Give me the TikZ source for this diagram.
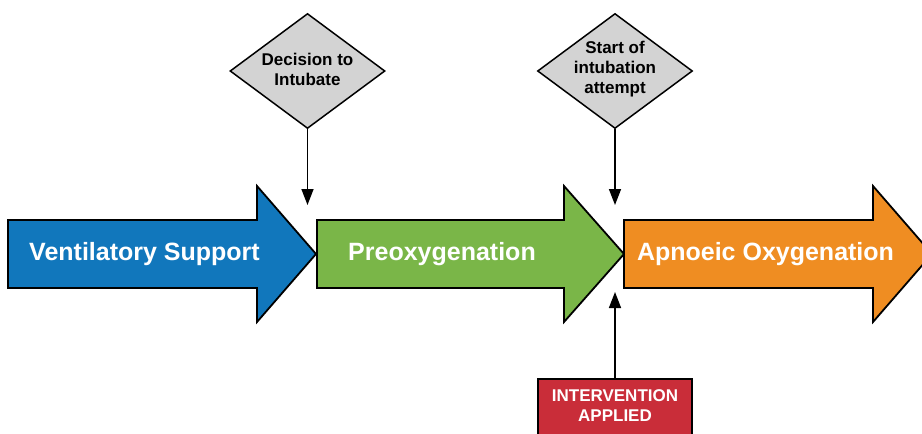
\documentclass[tikz,border=0pt]{standalone}
\usepackage{fontspec}
\setmainfont{Liberation Sans}
\usetikzlibrary{arrows.meta,shapes.geometric}
\definecolor{cazul}{HTML}{1177BC}
\definecolor{cverde}{HTML}{7AB648}
\definecolor{cnaranja}{HTML}{EF8D22}
\definecolor{crojo}{HTML}{C92D39}
\definecolor{cgris}{HTML}{D3D3D3}
\tikzset{
  fase/.style={draw=black, line width=1.8pt, line join=miter},
  etqfase/.style={font=\bfseries\fontsize{25}{30}\selectfont, text=white, anchor=base},
  rombo/.style={diamond, draw=black, fill=cgris, line width=1.5pt,
    minimum width=155pt, minimum height=115pt, inner sep=0pt},
  etqrombo/.style={font=\bfseries\fontsize{17}{20}\selectfont, align=center, text=black},
  caja/.style={rectangle, draw=black, fill=crojo, line width=1.5pt,
    minimum width=154pt, minimum height=62pt, inner sep=0pt},
  etqcaja/.style={font=\bfseries\fontsize{17}{20}\selectfont, align=center, text=white},
  flecha/.style={-{Triangle[length=16pt,width=12pt]}, line width=1.5pt},
}
\begin{document}
\begin{tikzpicture}[x=1pt, y=-1pt]
  \useasboundingbox (0,0) rectangle (922,434);
  \clip (0,0) rectangle (922,434);
  % fases
  \draw[fase, fill=cazul] (8,220) -- (257,220) -- (257,186) -- (316,254)
    -- (257,322) -- (257,288) -- (8,288) -- cycle;
  \draw[fase, fill=cverde] (317,220) -- (564,220) -- (564,186) -- (624,254)
    -- (564,322) -- (564,288) -- (317,288) -- cycle;
  \draw[fase, fill=cnaranja] (624,220) -- (873,220) -- (873,186) -- (932,254)
    -- (873,322) -- (873,288) -- (624,288) -- cycle;
  \node[etqfase] (t1) at (144.5,260) {Ventilatory Support};
  \node[etqfase] (t2) at (442,260) {Preoxygenation};
  \node[etqfase] (t3) at (765.5,260) {Apnoeic Oxygenation};
  % eventos
  \node[rombo] (r1) at (307.5,71) {};
  \node[etqrombo] (r1t) at (307.5,69) {Decision to\\Intubate};
  \node[rombo] (r2) at (615,71) {};
  \node[etqrombo] (r2t) at (615,69) {Start of\\intubation\\attempt};
  \node[caja] (ca) at (615,410) {};
  \node[etqcaja] (cat) at (615,406) {INTERVENTION\\APPLIED};
  \coordinate (p1) at (307.5,205);
  \coordinate (p2) at (615,205);
  \coordinate (p3) at (615,292);
  \draw[flecha] (r1.south) -- (p1);
  \draw[flecha] (r2.south) -- (p2);
  \draw[flecha] (ca.north) -- (p3);
\end{tikzpicture}
\end{document}
